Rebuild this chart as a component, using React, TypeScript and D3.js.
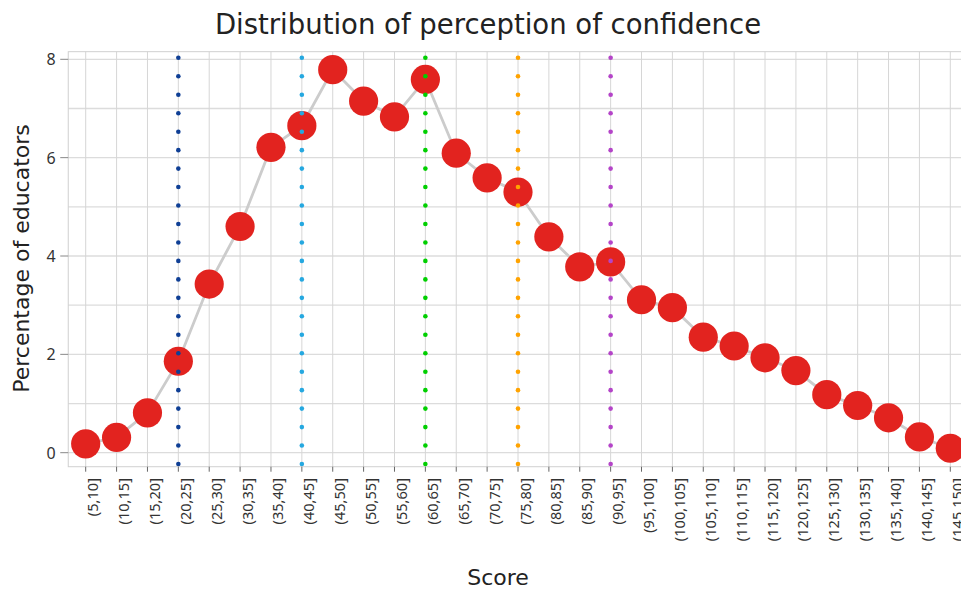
import React from "react";
import * as d3 from "d3";

const categories = [
  "(5,10]", "(10,15]", "(15,20]", "(20,25]", "(25,30]", "(30,35]", "(35,40]",
  "(40,45]", "(45,50]", "(50,55]", "(55,60]", "(60,65]", "(65,70]", "(70,75]",
  "(75,80]", "(80,85]", "(85,90]", "(90,95]", "(95,100]", "(100,105]",
  "(105,110]", "(110,115]", "(115,120]", "(120,125]", "(125,130]", "(130,135]",
  "(135,140]", "(140,145]", "(145,150]",
];

const percentages = [
  0.18, 0.31, 0.81, 1.86, 3.43, 4.6, 6.21, 6.65, 7.79, 7.15, 6.83, 7.59, 6.09,
  5.59, 5.3, 4.39, 3.78, 3.88, 3.11, 2.95, 2.35, 2.17, 1.93, 1.67, 1.18, 0.96,
  0.71, 0.32, 0.09,
];

const markerCategories = ["(20,25]", "(40,45]", "(60,65]", "(75,80]", "(90,95]"];
const markerColors = ["#0f3f95", "#25a8e0", "#00cf00", "#ffa300", "#b444c8"];

const yTicks = [0, 2, 4, 6, 8];
const yGrid = [0, 1, 2, 3, 4, 5, 6, 7, 8];

const title = "Distribution of perception of confidence";
const xTitle = "Score";
const yTitle = "Percentage of educators";

const W = 961;
const H = 590;
const FONT = "'DejaVu Sans', sans-serif";
const LABEL_FONT = "'Noto Sans', 'DejaVu Sans', sans-serif";

export default function App() {
  const x = d3
    .scalePoint<string>()
    .domain(categories)
    .range([85.7, 950.3]);
  const step = x.step();
  const y = d3.scaleLinear().domain([0, 8]).range([452.7, 59.3]);

  const frameLeft = (x(categories[0]) as number) - 0.565 * step;
  const frameRight = (x(categories[categories.length - 1]) as number) + 0.565 * step;
  const frameTop = y(8.155);
  const frameBottom = y(-0.285);

  const line = d3
    .line<number>()
    .x((_, i) => x(categories[i]) as number)
    .y((d) => y(d));

  const dotTop = y(8.03);
  const dotBottom = y(-0.23);
  const nDots = 23;
  const dotYs = d3.range(nDots).map((i) => dotTop + ((dotBottom - dotTop) * i) / (nDots - 1));

  return (
    <svg
      width={W}
      height={H}
      style={{ position: "absolute", left: 0, top: 0, overflow: "hidden", background: "#fff" }}
      fontFamily={FONT}
    >
      {/* title */}
      <text x={488} y={34} textAnchor="middle" fontSize={27.5} fill="#222">
        {title}
      </text>

      {/* horizontal gridlines */}
      {yGrid.map((v) => (
        <line
          key={"hg" + v}
          x1={frameLeft}
          x2={frameRight}
          y1={y(v)}
          y2={y(v)}
          stroke="#dcdcdc"
          strokeWidth={1.3}
        />
      ))}
      {/* vertical gridlines */}
      {categories.map((c) => (
        <line
          key={"vg" + c}
          x1={x(c) as number}
          x2={x(c) as number}
          y1={frameTop}
          y2={frameBottom}
          stroke="#d6d6d6"
          strokeWidth={1}
        />
      ))}
      {/* frame */}
      <rect
        x={frameLeft}
        y={frameTop}
        width={frameRight - frameLeft}
        height={frameBottom - frameTop}
        fill="none"
        stroke="#d0d0d0"
        strokeWidth={1}
      />

      {/* y axis ticks & labels */}
      {yTicks.map((v) => (
        <g key={"yt" + v}>
          <line x1={frameLeft - 8} x2={frameLeft} y1={y(v)} y2={y(v)} stroke="#888" strokeWidth={1} />
          <text
            x={frameLeft - 12.5}
            y={y(v)}
            textAnchor="end"
            dominantBaseline="central"
            fontSize={16}
            fontFamily={LABEL_FONT}
            fill="#333"
          >
            {v}
          </text>
        </g>
      ))}

      {/* x axis ticks & labels */}
      {categories.map((c) => (
        <g key={"xt" + c}>
          <line
            x1={x(c) as number}
            x2={x(c) as number}
            y1={frameBottom}
            y2={frameBottom + 5}
            stroke="#666"
            strokeWidth={1}
          />
          <text
            transform={`translate(${(x(c) as number) + 6.5},${478}) rotate(-90)`}
            textAnchor="end"
            dominantBaseline="central"
            fontSize={14.6}
            fontFamily={LABEL_FONT}
            fill="#333"
          >
            {c}
          </text>
        </g>
      ))}

      {/* connecting line */}
      <path d={line(percentages) || ""} fill="none" stroke="#cccccc" strokeWidth={2.8} />

      {/* points */}
      {percentages.map((v, i) => (
        <circle
          key={"pt" + i}
          cx={x(categories[i]) as number}
          cy={y(v)}
          r={14.6}
          fill="#e2231f"
        />
      ))}

      {/* dotted reference lines */}
      {markerCategories.map((c, k) => (
        <g key={"mk" + c}>
          {dotYs.map((yy, j) => (
            <circle key={j} cx={x(c) as number} cy={yy} r={2.3} fill={markerColors[k]} />
          ))}
        </g>
      ))}

      {/* axis titles */}
      <text x={498} y={585} textAnchor="middle" fontSize={22} fill="#222">
        {xTitle}
      </text>
      <text
        transform={`translate(29,${258.5}) rotate(-90)`}
        textAnchor="middle"
        fontSize={22}
        fill="#222"
      >
        {yTitle}
      </text>
    </svg>
  );
}
